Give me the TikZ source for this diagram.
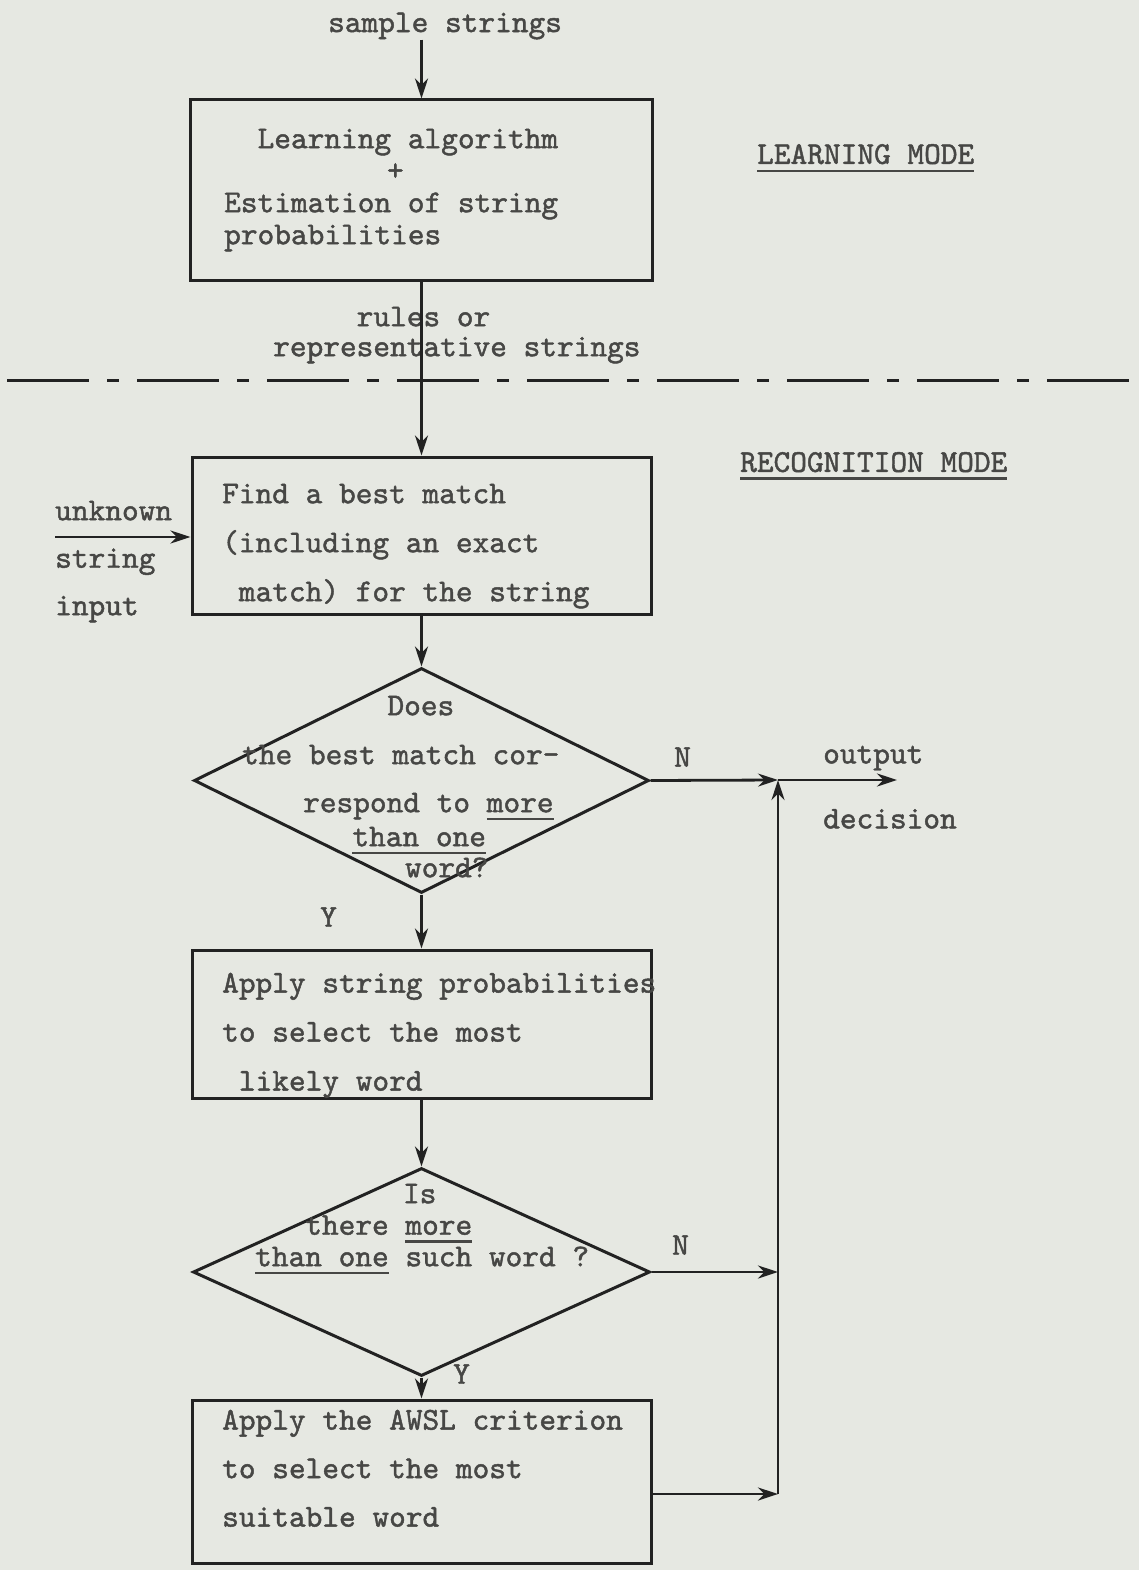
\documentclass[tikz,border=0pt]{standalone}
\usepackage{fontspec}
\usepackage{tikz}
\usetikzlibrary{arrows.meta, shapes.geometric, positioning, calc}

\setmonofont{lmmono10-regular.otf}[FakeBold=1.4]

\definecolor{paper}{HTML}{E6E8E2}
\definecolor{ink}{HTML}{222222}
\definecolor{typeink}{HTML}{474745}

% one typed character is 16.7pt wide
\newdimen\chw \chw=16.7pt
\newcommand{\chsp}[1]{\hspace*{#1\chw}}
\newcommand{\typefont}{\ttfamily\fontsize{31.8}{32}\selectfont}
\newcommand{\uln}[1]{\setbox0=\hbox{#1}\rlap{\rule[-8pt]{\wd0}{2.4pt}}\box0\relax}

\tikzset{
  flowbox/.style={draw=ink, line width=3pt, rectangle, inner sep=0pt},
  decision/.style={draw=ink, line width=3pt, diamond, inner sep=0pt},
  typed/.style={font=\typefont, text=typeink, inner sep=0pt, align=left},
  lead/.style={font=\ttfamily\fontsize{31.8}{#1}\selectfont},
  flow/.style={-{Stealth[length=20pt, width=13pt]}, line width=2.8pt, draw=ink},
  divider/.style={line width=3pt, draw=ink, dash pattern=on 82pt off 18pt on 12pt off 18pt}
}

\begin{document}
\begin{tikzpicture}[x=1pt, y=-1pt]
  \fill[paper] (0,0) rectangle (1139,1570);
  \useasboundingbox (0,0) rectangle (1139,1570);

  % learning mode
  \node[typed, anchor=west] (samp) at (328,26) {sample strings};
  \node[flowbox, minimum width=462pt, minimum height=180pt] (learn) at (421.5,190) {};
  \node[typed, anchor=north west] (learntxt) at (224,128.6)
    {\chsp{2}Learning algorithm\\\chsp{9.75}+\\Estimation of string\\probabilities};
  \node[typed, lead=30, anchor=north west] (rules) at (273,306.6)
    {\chsp{5}rules or\\representative strings};
  \node[typed, anchor=west] (lmode) at (757,158) {\uln{LEARNING MODE}};

  \coordinate (divL) at (7,380);
  \coordinate (divR) at (1137,380);
  \draw[divider] (divL) -- (divR);

  % recognition mode
  \node[typed, anchor=west] (rmode) at (740,466) {\uln{RECOGNITION MODE}};
  \node[flowbox, minimum width=459pt, minimum height=157pt] (match) at (421.5,535.5) {};
  \node[typed, lead=49, anchor=north west] (matchtxt) at (222,483.6)
    {Find a best match\\(including an exact\\\chsp{1}match) for the string};
  \node[typed, lead=47.5, anchor=north west] (input) at (55,500.6) {unknown\\string\\input};
  \coordinate (inpt) at (55,537);

  \node[decision, minimum width=455pt, minimum height=225pt] (multi) at (421.5,780.5) {};
  \node[typed, lead=31, anchor=north west] (multitxt) at (242,695.6)
    {\chsp{8.7}Does\\[18pt]the best match cor-\\[17pt]\chsp{3.65}respond to \uln{more}\\[3pt]\chsp{6.6}\uln{than one}\\\chsp{9.75}word?};
  \node[typed, anchor=west] (n1) at (674,757) {N};
  \coordinate (join) at (778,780);
  \coordinate (outend) at (897,780);
  \node[typed, lead=65, anchor=north west] (outtxt) at (823,745.6) {output\\decision};
  \node[typed, anchor=west] (y1) at (320,917) {Y};

  \node[flowbox, minimum width=459pt, minimum height=148pt] (apply) at (421.5,1024) {};
  \node[typed, lead=49, anchor=north west] (applytxt) at (222,972.6)
    {Apply string probabilities\\to select the most\\\chsp{1}likely word};

  \node[decision, minimum width=457pt, minimum height=208pt] (many) at (421.5,1272) {};
  \node[typed, lead=31.5, anchor=north west] (manytxt) at (255,1183.6)
    {\chsp{8.85}Is\\\chsp{3}there \uln{more}\\\uln{than one} such word ?};
  \node[typed, anchor=west] (n2) at (672,1245) {N};
  \coordinate (join2) at (778,1272);
  \node[typed, anchor=west] (y2) at (453,1374) {Y};

  \node[flowbox, minimum width=459pt, minimum height=163pt] (awsl) at (421.5,1481.5) {};
  \node[typed, lead=48.5, anchor=north west] (awsltxt) at (222,1409.6)
    {Apply the AWSL criterion\\to select the most\\suitable word};
  \coordinate (corner) at (778,1494);

  % connectors
  \draw[flow] (learn.north |- samp.south) -- (learn.north);
  \draw[flow] (learn.south) -- (match.north);
  \draw[flow] (inpt) -- (inpt -| match.west);
  \draw[flow] (match.south) -- (multi.north);
  \draw[flow] (multi.east) -- (join);
  \draw[flow] (join) -- (outend);
  \draw[flow] (multi.south) -- (apply.north);
  \draw[flow] (apply.south) -- (many.north);
  \draw[flow] (many.east) -- (join2);
  \draw[flow] (many.south) -- (awsl.north);
  \draw[flow] (awsl.east |- corner) -- (corner);
  \draw[flow] (corner) -- (join);
\end{tikzpicture}
\end{document}
